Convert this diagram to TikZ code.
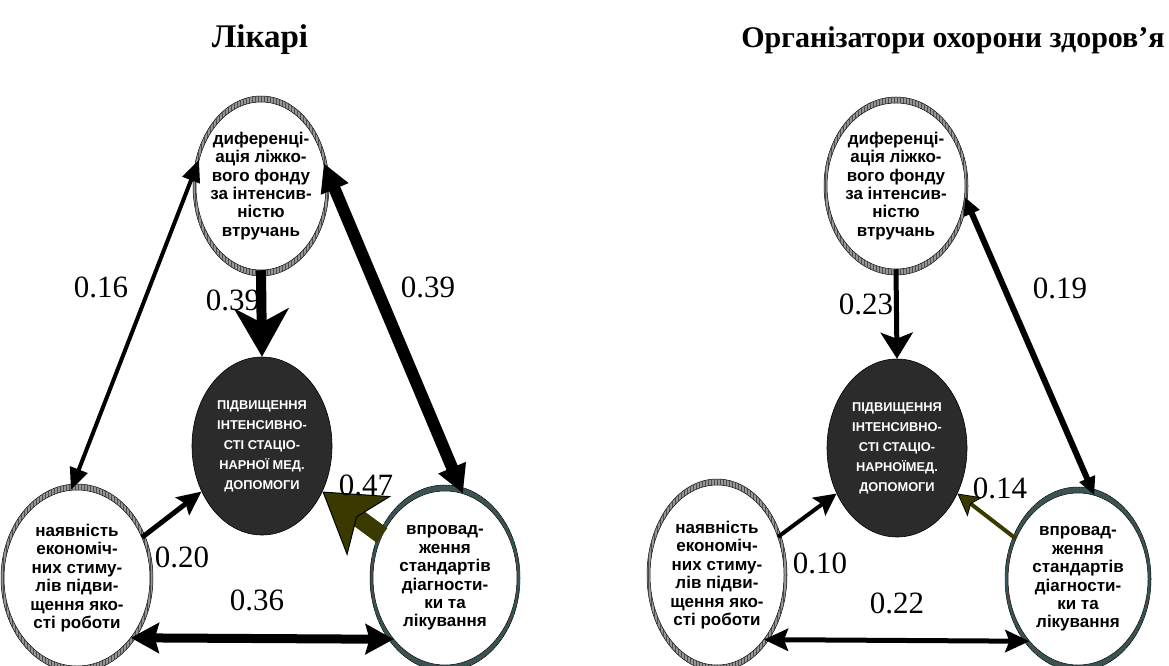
\documentclass[tikz,border=0pt]{standalone}
\usepackage{fontspec}
\setmainfont{Liberation Serif}
\newfontfamily\arialf{Liberation Sans}
\usetikzlibrary{shapes.geometric,arrows.meta,patterns}
\definecolor{olivearr}{RGB}{58,58,0}
\definecolor{darkcore}{RGB}{43,43,43}
\definecolor{tealring}{RGB}{50,85,85}
\definecolor{grayring}{RGB}{150,150,150}
\tikzset{
 bub/.style={ellipse, fill=white, draw=black, line width=0.5pt, inner sep=-14pt, align=center,
   font=\arialf\bfseries\fontsize{17}{18.4}\selectfont},
 core/.style={ellipse, fill=darkcore, draw=black, line width=0.6pt, inner sep=-10pt, align=center,
   text=white, font=\arialf\bfseries\fontsize{12.8}{20}\selectfont},
 num/.style={font=\fontsize{31}{31}\selectfont, inner sep=0pt},
 ttl/.style={font=\bfseries\fontsize{33}{33}\selectfont, inner sep=0pt},
 conn/.style={draw=black},
}
\newcommand\ringat[5]{\path[fill=#5, draw=black, line width=0.5pt,
  postaction={pattern=vertical lines, pattern color=black!70}]
  (#1,#2) ellipse [x radius=#3pt+3pt, y radius=#4pt+6pt];}
\begin{document}
\begin{tikzpicture}[x=1pt,y=-1pt]
\useasboundingbox (0,0) rectangle (1169,666);
% titles
\node[ttl] (t1) at (260,40) {Лікарі};
\node[ttl, font=\bfseries\fontsize{30}{30}\selectfont] (t2) at (953,40) {Організатори охорони здоров’я};

% ===== left diagram =====
\ringat{261}{186}{65}{84}{grayring}
\ringat{77}{578}{73}{88}{grayring}
\ringat{445}{578}{72}{87}{tealring}
\node[bub, minimum width=130pt, minimum height=168pt] (T) at (261,186)
 {диференці-\\ація ліжко-\\вого фонду\\за інтенсив-\\ністю\\втручань};
\node[bub, minimum width=146pt, minimum height=176pt] (BL) at (77,578)
 {наявність\\економіч-\\них стиму-\\лів підви-\\щення яко-\\сті роботи};
\node[bub, minimum width=144pt, minimum height=174pt] (BR) at (445,578)
 {впровад-\\ження\\стандартів\\діагности-\\ки та\\лікування};
\node[core, minimum width=140pt, minimum height=178pt] (C) at (262,446)
 {ПІДВИЩЕННЯ\\ІНТЕНСИВНО-\\СТІ СТАЦІО-\\НАРНОЇ МЕД.\\ДОПОМОГИ};

\draw[conn, line width=4pt, {Triangle[length=22pt,width=18pt]}-{Triangle[length=22pt,width=18pt]}] (T.157) -- (BL.94);
\draw[conn, line width=10pt, -{Stealth[length=48pt,width=54pt,inset=14pt]}] (T.south) -- (C.north);
\draw[conn, line width=12pt, {Triangle[length=28pt,width=28pt]}-{Triangle[length=28pt,width=28pt]}] (T.20) -- (BR.78);
\draw[conn, line width=5pt, -{Stealth[length=24pt,width=22pt,inset=4pt]}] (BL.32) -- (C.217);
\draw[draw=olivearr, line width=18pt, -{Stealth[length=58pt,width=74pt,inset=15pt,fill=olivearr,color=black,line width=1pt]}] (BR.146) -- (C.323);
\draw[conn, line width=9pt, {Stealth[length=28pt,width=30pt,inset=4pt]}-{Stealth[length=28pt,width=30pt,inset=4pt]}] (BL.312) -- (BR.230);

\node[num] (n16) at (101,287) {0.16};
\node[num] (n39a) at (233,300) {0.39};
\node[num] (n39b) at (428,287) {0.39};
\node[num] (n20) at (182,557) {0.20};
\node[num] (n47) at (366,485) {0.47};
\node[num] (n36) at (257,600) {0.36};

% ===== right diagram =====
\ringat{896}{186}{69}{83}{grayring}
\ringat{717}{575}{67}{90}{grayring}
\ringat{1078}{579}{70}{86}{tealring}
\node[bub, minimum width=138pt, minimum height=166pt] (T2) at (896,186)
 {диференці-\\ація ліжко-\\вого фонду\\за інтенсив-\\ністю\\втручань};
\node[bub, minimum width=134pt, minimum height=180pt] (BL2) at (717,575)
 {наявність\\економіч-\\них стиму-\\лів підви-\\щення яко-\\сті роботи};
\node[bub, minimum width=140pt, minimum height=172pt] (BR2) at (1078,579)
 {впровад-\\ження\\стандартів\\діагности-\\ки та\\лікування};
\node[core, minimum width=140pt, minimum height=178pt] (C2) at (897,448)
 {ПІДВИЩЕННЯ\\ІНТЕНСИВНО-\\СТІ СТАЦІО-\\НАРНОЇМЕД.\\ДОПОМОГИ};

\draw[conn, line width=5pt, -{Stealth[length=26pt,width=32pt,inset=6pt]}] (T2.south) -- (C2.north);
\draw[conn, line width=6pt, {Triangle[length=18pt,width=16pt]}-{Triangle[length=18pt,width=16pt]}] (T2.351) -- (BR2.79);
\draw[conn, line width=4pt, -{Stealth[length=22pt,width=22pt,inset=4pt]}] (BL2.32) -- (C2.217);
\draw[draw=olivearr, line width=4pt, -{Stealth[length=22pt,width=24pt,inset=5pt,fill=olivearr,color=black,line width=0.8pt]}] (BR2.147) -- (C2.323);
\draw[conn, line width=5pt, {Stealth[length=24pt,width=22pt,inset=4pt]}-{Stealth[length=24pt,width=22pt,inset=4pt]}] (BL2.306) -- (BR2.232);

\node[num] (n23) at (866,304) {0.23};
\node[num] (n19) at (1060,288) {0.19};
\node[num] (n14) at (1000,488) {0.14};
\node[num] (n10) at (820,563) {0.10};
\node[num] (n22) at (897,603) {0.22};
\end{tikzpicture}
\end{document}
